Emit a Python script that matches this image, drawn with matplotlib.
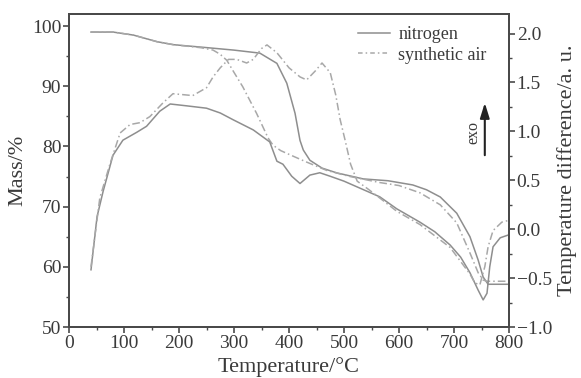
import matplotlib
matplotlib.use("Agg")
import matplotlib.pyplot as plt
from matplotlib.ticker import MultipleLocator
from matplotlib.lines import Line2D

# ---- data ----
T_tg_n2 = [40, 80, 117, 160, 190, 240, 300, 347, 378, 396, 411, 420, 426, 438, 460, 487,
           535, 580, 625, 650, 675, 705, 729, 744, 753, 762, 780, 800]
m_tg_n2 = [99.0, 99.0, 98.5, 97.4, 96.9, 96.5, 96.0, 95.5, 93.8, 90.5, 85.5, 81.0, 79.4,
           77.7, 76.4, 75.6, 74.6, 74.3, 73.6, 72.8, 71.6, 68.9, 65.0, 61.1, 58.3, 57.1, 57.1, 57.1]

T_tg_air = [40, 80, 117, 160, 190, 240, 262, 275, 287, 300, 316, 341, 362, 371, 385, 402,
            432, 469, 511, 565, 600, 638, 675, 705, 729, 744, 753, 760, 800]
m_tg_air = [99.0, 99.0, 98.5, 97.4, 96.9, 96.4, 96.0, 95.3, 94.3, 92.3, 89.9, 85.5, 81.4,
            80.2, 79.3, 78.6, 77.4, 76.0, 75.0, 74.0, 73.5, 72.3, 70.3, 67.3, 62.3, 59.0,
            57.8, 57.6, 57.6]

T_dta_n2 = [40, 51, 62, 80, 98, 123, 141, 165, 184, 214, 250, 275, 298, 335, 365, 378, 389,
            405, 420, 438, 456, 475, 500, 530, 565, 596, 638, 665, 693, 712, 729, 744, 753,
            760, 765, 771, 784, 800]
d_dta_n2 = [-0.415, 0.128, 0.386, 0.756, 0.910, 0.990, 1.052, 1.206, 1.280, 1.261, 1.237,
            1.188, 1.120, 1.015, 0.892, 0.695, 0.664, 0.541, 0.467, 0.553, 0.577, 0.541,
            0.491, 0.417, 0.331, 0.208, 0.072, -0.026, -0.162, -0.285, -0.445, -0.624,
            -0.723, -0.655, -0.384, -0.180, -0.088, -0.057]

T_dta_air = [40, 56, 75, 93, 111, 129, 147, 171, 189, 225, 250, 262, 275, 290, 305, 323,
             335, 350, 360, 378, 400, 420, 432, 448, 460, 475, 485, 493, 502, 512, 524, 545,
             565, 596, 638, 693, 729, 738, 747, 756, 762, 771, 787, 800]
d_dta_air = [-0.384, 0.319, 0.676, 0.984, 1.070, 1.089, 1.151, 1.292, 1.385, 1.366, 1.446,
             1.557, 1.650, 1.736, 1.736, 1.699, 1.736, 1.847, 1.884, 1.804, 1.650, 1.557,
             1.526, 1.619, 1.699, 1.600, 1.372, 1.120, 0.910, 0.664, 0.491, 0.405, 0.319,
             0.183, 0.048, -0.187, -0.458, -0.550, -0.569, -0.384, -0.180, -0.014, 0.072,
             0.091]

legend_labels = ["nitrogen", "synthetic air"]

# ---- style ----
plt.rcParams['font.family'] = ['Liberation Serif', 'DejaVu Serif']
txt = '#3a3a3a'
spine_c = '#4a4a4a'
c_solid = '#8e8e8e'
c_dash = '#a8a8a8'
dashdot = (0, (5, 2, 1, 2))

fig = plt.figure(figsize=(5.81, 3.78), dpi=100)
ax = fig.add_axes([69/581, 1-327/378, 440/581, 313/378])
ax2 = ax.twinx()

ax.plot(T_tg_n2, m_tg_n2, color=c_solid, lw=1.1, ls='-')
ax.plot(T_tg_air, m_tg_air, color=c_dash, lw=1.1, ls=dashdot)
ax2.plot(T_dta_n2, d_dta_n2, color=c_solid, lw=1.1, ls='-')
ax2.plot(T_dta_air, d_dta_air, color=c_dash, lw=1.1, ls=dashdot)

ax.set_xlim(0, 800)
ax.set_ylim(50, 102)
ax2.set_ylim(-1.0, 2.2)

ax.xaxis.set_major_locator(MultipleLocator(100))
ax.xaxis.set_minor_locator(MultipleLocator(50))
ax.yaxis.set_major_locator(MultipleLocator(10))
ax.yaxis.set_minor_locator(MultipleLocator(5))
ax2.yaxis.set_major_locator(MultipleLocator(0.5))
ax2.yaxis.set_minor_locator(MultipleLocator(0.25))
ax2.yaxis.set_major_formatter(plt.FuncFormatter(lambda v, p: f"{v:.1f}".replace('-', '\u2212')))

for a in (ax, ax2):
    for s in a.spines.values():
        s.set_color(spine_c)
        s.set_linewidth(1.4)
    a.tick_params(which='major', direction='out', length=4, width=1.2, color=spine_c,
                  labelsize=14, labelcolor=txt, pad=1.5)
    a.tick_params(which='minor', direction='out', length=2.5, width=1.0, color=spine_c)

ax.set_xlabel("Temperature/\u00b0C", fontsize=16, color=txt, labelpad=4)
ax.set_ylabel("Mass/%", fontsize=16, color=txt, labelpad=3)
ax2.set_ylabel("Temperature difference/a. u.", fontsize=16, color=txt, labelpad=4)

handles = [Line2D([], [], color=c_solid, lw=1.1, ls='-'),
           Line2D([], [], color=c_dash, lw=1.1, ls=(0, (3, 2, 1, 2)))]
leg = ax.legend(handles, legend_labels, loc='upper left', bbox_to_anchor=(0.64, 0.985),
                frameon=False, fontsize=13, handlelength=1.8, handletextpad=0.45,
                labelspacing=0.2, borderaxespad=0)
for t in leg.get_texts():
    t.set_color(txt)

ax.annotate("", xy=(0.945, 0.725), xytext=(0.945, 0.54), xycoords='axes fraction',
            arrowprops=dict(arrowstyle='-|>,head_width=0.28,head_length=0.9', color='#222222', lw=1.5))
ax.text(0.92, 0.62, "exo", transform=ax.transAxes, rotation=90, ha='center', va='center',
        fontsize=11.5, color=txt)

fig.savefig("out.png", dpi=100)
